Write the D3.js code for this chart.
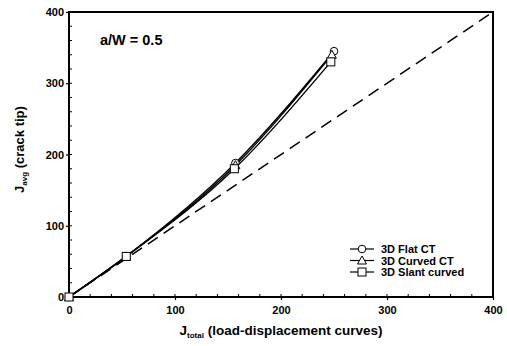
<!DOCTYPE html>
<html>
<head>
<meta charset="utf-8">
<script src="https://cdn.jsdelivr.net/npm/d3@7"></script>
<style>
  body { margin: 0; background: #fff; }
  text { font-family: "Liberation Sans", Arial, sans-serif; fill: #000; }
</style>
</head>
<body>
<div id="chart"></div>
<script>
var svgWidth = 507;
var svgHeight = 346;

var margin = { top: 12, right: 14, bottom: 49, left: 69 };
var width = svgWidth - margin.left - margin.right;
var height = svgHeight - margin.top - margin.bottom;

// data
var seriesNames = ["3D Flat CT", "3D Curved CT", "3D Slant curved"];
var seriesSymbols = ["circle", "triangle", "square"];
var jTotalFlat = [0, 54, 157, 250];
var jAvgFlat = [0, 57, 188, 345];
var jTotalCurved = [0, 54, 157, 248];
var jAvgCurved = [0, 57, 185, 340];
var jTotalSlant = [0, 54, 156, 247];
var jAvgSlant = [0, 57, 180, 330];
var refLine = [0, 400];
var xTicks = [0, 100, 200, 300, 400];
var yTicks = [0, 100, 200, 300, 400];

var series = [
  { name: seriesNames[0], symbol: seriesSymbols[0], x: jTotalFlat, y: jAvgFlat },
  { name: seriesNames[1], symbol: seriesSymbols[1], x: jTotalCurved, y: jAvgCurved },
  { name: seriesNames[2], symbol: seriesSymbols[2], x: jTotalSlant, y: jAvgSlant }
];

var svg = d3.select("#chart")
  .append("svg")
  .attr("width", svgWidth)
  .attr("height", svgHeight);

var chartGroup = svg.append("g")
  .attr("transform", `translate(${margin.left}, ${margin.top})`);

var xScale = d3.scaleLinear().domain([0, 400]).range([0, width]);
var yScale = d3.scaleLinear().domain([0, 400]).range([height, 0]);

// minor ticks pointing inward
var minor = d3.range(0, 401, 20);
chartGroup.selectAll(".xminor")
  .data(minor)
  .enter()
  .append("line")
  .attr("x1", d => xScale(d)).attr("x2", d => xScale(d))
  .attr("y1", height).attr("y2", height - 3)
  .attr("stroke", "#000").attr("stroke-width", 1);
chartGroup.selectAll(".yminor")
  .data(minor)
  .enter()
  .append("line")
  .attr("y1", d => yScale(d)).attr("y2", d => yScale(d))
  .attr("x1", 0).attr("x2", 3)
  .attr("stroke", "#000").attr("stroke-width", 1);

// axes
var bottomAxis = d3.axisBottom(xScale).tickValues(xTicks).tickSize(3).tickPadding(6);
var leftAxis = d3.axisLeft(yScale).tickValues(yTicks).tickSize(3).tickPadding(2);

var xAxisG = chartGroup.append("g")
  .attr("transform", `translate(0, ${height})`)
  .call(bottomAxis);
var yAxisG = chartGroup.append("g").call(leftAxis);

[xAxisG, yAxisG].forEach(function(g) {
  g.select(".domain").remove();
  g.selectAll("text")
    .attr("font-size", 11)
    .attr("font-family", "Liberation Sans, Arial, sans-serif")
    .attr("font-weight", "bold");
  g.selectAll("line").attr("stroke-width", 1.2);
});

// frame
chartGroup.append("rect")
  .attr("x", 0).attr("y", 0)
  .attr("width", width).attr("height", height)
  .attr("fill", "none")
  .attr("stroke", "#000")
  .attr("stroke-width", 2);

// dashed 1:1 line
chartGroup.append("line")
  .attr("x1", xScale(refLine[0])).attr("y1", yScale(refLine[0]))
  .attr("x2", xScale(refLine[1])).attr("y2", yScale(refLine[1]))
  .attr("stroke", "#000")
  .attr("stroke-width", 1.5)
  .attr("stroke-dasharray", "12,7");

var line = d3.line()
  .x(d => xScale(d[0]))
  .y(d => yScale(d[1]))
  .curve(d3.curveMonotoneX);

function drawSymbol(g, type, cx, cy) {
  if (type === "circle") {
    g.append("circle").attr("cx", cx).attr("cy", cy).attr("r", 3.8)
      .attr("fill", "#fff").attr("stroke", "#000").attr("stroke-width", 1);
  } else if (type === "triangle") {
    g.append("path")
      .attr("d", `M${cx},${cy - 4.5}L${cx + 4.5},${cy + 3.5}L${cx - 4.5},${cy + 3.5}Z`)
      .attr("fill", "#fff").attr("stroke", "#000").attr("stroke-width", 1);
  } else {
    g.append("rect").attr("x", cx - 4).attr("y", cy - 4).attr("width", 8).attr("height", 8)
      .attr("fill", "#fff").attr("stroke", "#000").attr("stroke-width", 1);
  }
}

series.forEach(function(s) {
  var pts = s.x.map((v, i) => [v, s.y[i]]);
  chartGroup.append("path")
    .datum(pts)
    .attr("d", line)
    .attr("fill", "none")
    .attr("stroke", "#000")
    .attr("stroke-width", 1.4);
});
series.forEach(function(s) {
  var g = chartGroup.append("g");
  s.x.forEach(function(v, i) {
    drawSymbol(g, s.symbol, xScale(v), yScale(s.y[i]));
  });
});

// legend
var legend = chartGroup.append("g")
  .attr("transform", `translate(${350 - margin.left}, ${249 - margin.top})`);
series.forEach(function(s, i) {
  var ly = i * 11.5;
  legend.append("line")
    .attr("x1", 0).attr("x2", 24).attr("y1", ly).attr("y2", ly)
    .attr("stroke", "#000").attr("stroke-width", 1.2);
  drawSymbol(legend, s.symbol, 12, ly);
  legend.append("text")
    .attr("x", 31).attr("y", ly + 4)
    .attr("font-size", 11)
    .attr("font-weight", "bold")
    .text(s.name);
});

// annotation
chartGroup.append("text")
  .attr("x", 100 - margin.left).attr("y", 45 - margin.top)
  .attr("font-size", 14.5)
  .attr("font-weight", "bold")
  .text("a/W = 0.5");

// axis labels
var xl = chartGroup.append("text")
  .attr("text-anchor", "middle")
  .attr("x", width / 2)
  .attr("y", height + 38)
  .attr("font-size", 13.5)
  .attr("font-weight", "bold");
xl.append("tspan").text("J");
xl.append("tspan").attr("font-size", 8).attr("dy", 3).text("total");
xl.append("tspan").attr("dy", -3).text(" (load-displacement curves)");

var yl = chartGroup.append("text")
  .attr("text-anchor", "middle")
  .attr("transform", `translate(-45, ${height / 2 - 5}) rotate(-90)`)
  .attr("font-size", 13)
  .attr("font-weight", "bold");
yl.append("tspan").text("J");
yl.append("tspan").attr("font-size", 8).attr("dy", 3).text("avg");
yl.append("tspan").attr("dy", -3).text(" (crack tip)");
</script>
</body>
</html>
